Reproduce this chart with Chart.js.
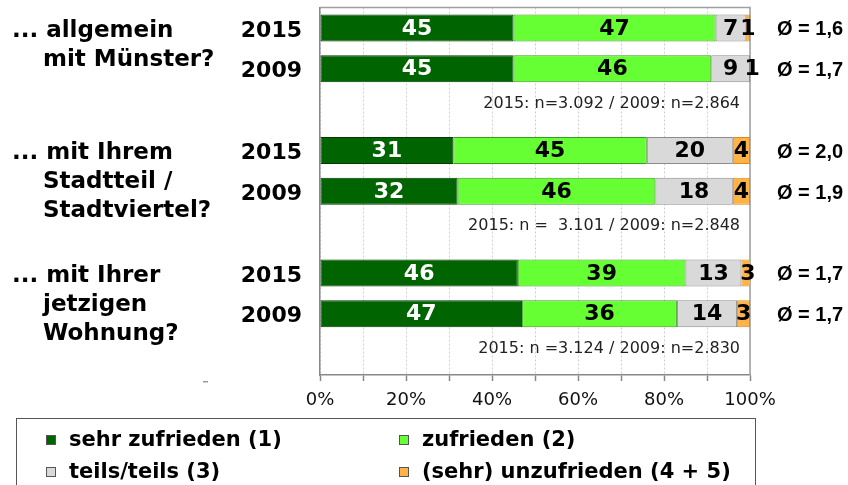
<!DOCTYPE html>
<html lang="de">
<head>
<meta charset="utf-8">
<title>Zufriedenheit Münster 2015 / 2009</title>
<script src="https://cdn.jsdelivr.net/npm/chart.js@4.4.1/dist/chart.umd.min.js"></script>
<style>
  html, body { margin: 0; padding: 0; background: #fff; }
  #wrap { position: relative; width: 848px; height: 485px; overflow: hidden; }
  #legend {
    position: absolute; left: 16px; top: 418px; width: 740px; height: 90px;
    border: 1.5px solid #555; box-sizing: border-box;
    font: bold 21px "DejaVu Sans", sans-serif; color: #000;
  }
  .item { position: absolute; white-space: nowrap; line-height: 22px; }
  .box { position: absolute; left: 0; top: 7px; width: 8px; height: 8px; border: 1px solid #555; }
  .item span.txt { position: absolute; left: 23px; top: 0; }
</style>
</head>
<body>
<div id="wrap">
  <canvas id="chart" width="848" height="485"></canvas>
  <div id="legend"></div>
</div>
<script>
// categories: two survey years per question, an empty row after each
const years = ['2015', '2009', '', '2015', '2009', '', '2015', '2009', ''];

// values in % per answer
const sehrZufrieden = [45, 45, null, 31, 32, null, 46, 47, null];
const zufrieden     = [47, 46, null, 45, 46, null, 39, 36, null];
const teilsTeils    = [7, 9, null, 20, 18, null, 13, 14, null];
const unzufrieden   = [1, 1, null, 4, 4, null, 3, 3, null];

// mean scores
const means = ['1,6', '1,7', null, '2,0', '1,9', null, '1,7', '1,7', null];

// questions (first row index of each group)
const questions = [
    ['... allgemein', 'mit Münster?'],
    ['... mit Ihrem', 'Stadtteil /', 'Stadtviertel?'],
    ['... mit Ihrer', 'jetzigen', 'Wohnung?']
];
const questionRows = [0, 3, 6];

// sample sizes shown in the empty rows
const sampleNotes = [
    '2015: n=3.092 / 2009: n=2.864',
    '2015: n =  3.101 / 2009: n=2.848',
    '2015: n =3.124 / 2009: n=2.830'
];
const noteRows = [2, 5, 8];

const xTicks = [0, 20, 40, 60, 80, 100];

// Extra text around the bars
const annotations = {
    id: 'annotations',
    beforeDatasetsDraw(chart) {
        const { ctx, chartArea } = chart;
        ctx.save();
        ctx.strokeStyle = '#a0a0a0';
        ctx.lineWidth = 1.5;
        ctx.beginPath();
        ctx.moveTo(chartArea.left, chartArea.top);
        ctx.lineTo(chartArea.right, chartArea.top);
        ctx.lineTo(chartArea.right, chartArea.bottom);
        ctx.stroke();
        ctx.restore();
    },
    afterDatasetsDraw(chart) {
        const { ctx } = chart;
        const yScale = chart.scales.y;

        // values inside the segments
        ctx.save();
        ctx.font = 'bold 22px "DejaVu Sans"';
        ctx.textAlign = 'center';
        ctx.textBaseline = 'middle';
        chart.data.datasets.forEach((ds, i) => {
            const meta = chart.getDatasetMeta(i);
            meta.data.forEach((bar, j) => {
                const v = ds.data[j];
                if (v == null) return;
                const p = bar.getProps(['x', 'y', 'base'], true);
                ctx.fillStyle = i === 0 ? '#fff' : '#000';
                ctx.fillText(v, (p.x + p.base) / 2, p.y + 1);
            });
        });
        ctx.restore();

        // mean values on the right
        ctx.save();
        ctx.font = 'bold 20px "Liberation Sans"';
        ctx.textAlign = 'left';
        ctx.textBaseline = 'middle';
        ctx.fillStyle = '#000';
        means.forEach((m, j) => {
            if (!m) return;
            ctx.fillText('Ø = ' + m, 777, yScale.getPixelForValue(j) + 2);
        });
        ctx.restore();

        // sample sizes
        ctx.save();
        ctx.font = '16px "DejaVu Sans"';
        ctx.textAlign = 'right';
        ctx.textBaseline = 'middle';
        ctx.fillStyle = '#222';
        sampleNotes.forEach((t, k) => {
            ctx.fillText(t, 740, yScale.getPixelForValue(noteRows[k]) - 6);
        });
        ctx.restore();

        // question texts on the left
        ctx.save();
        ctx.font = 'bold 23px "DejaVu Sans"';
        ctx.textAlign = 'left';
        ctx.textBaseline = 'middle';
        ctx.fillStyle = '#000';
        questions.forEach((lines, k) => {
            const y0 = yScale.getPixelForValue(questionRows[k]) + 3;
            lines.forEach((line, n) => {
                ctx.fillText(line, n === 0 ? 12 : 43, y0 + n * 29);
            });
        });
        ctx.fillStyle = '#999';
        ctx.fillRect(203, 381, 5, 1.5);
        ctx.restore();
    }
};

const ctx = document.getElementById('chart').getContext('2d');
const chart = new Chart(ctx, {
    type: 'bar',
    data: {
        labels: years,
        datasets: [
            { label: 'sehr zufrieden (1)', data: sehrZufrieden, backgroundColor: '#006400', borderColor: '#003a00' },
            { label: 'zufrieden (2)', data: zufrieden, backgroundColor: '#66ff33', borderColor: '#3c9a1e' },
            { label: 'teils/teils (3)', data: teilsTeils, backgroundColor: '#d9d9d9', borderColor: '#8c8c8c' },
            { label: '(sehr) unzufrieden (4 + 5)', data: unzufrieden, backgroundColor: '#ffb347', borderColor: '#d88a1c' }
        ]
    },
    options: {
        indexAxis: 'y',
        responsive: false,
        animation: false,
        datasets: {
            bar: { categoryPercentage: 1, barPercentage: 0.66, borderWidth: 1, borderSkipped: false }
        },
        layout: { padding: { left: 0, right: 98, top: 7.5, bottom: 80 } },
        plugins: { legend: { display: false }, tooltip: { enabled: false } },
        scales: {
            x: {
                stacked: true,
                min: 0,
                max: 100,
                afterFit: (scale) => { scale.height = 30; },
                ticks: {
                    stepSize: 10,
                    autoSkip: false,
                    maxRotation: 0,
                    padding: 9,
                    color: '#111',
                    font: { family: 'DejaVu Sans', size: 18 },
                    callback: (v) => xTicks.includes(v) ? v + '%' : ''
                },
                grid: { color: '#cfcfcf', lineWidth: 1, tickLength: 6, tickColor: '#888', tickWidth: 1.5 },
                border: { color: '#888', width: 1.5, dash: [2, 2] }
            },
            y: {
                stacked: true,
                afterFit: (scale) => {
                    scale.width = 320;
                    scale.paddingTop = 0;
                    scale.paddingBottom = 0;
                },
                ticks: {
                    padding: 18,
                    labelOffset: 3,
                    color: '#000',
                    font: { family: 'DejaVu Sans', size: 22, weight: 'bold' }
                },
                grid: { display: false, drawTicks: false },
                border: { color: '#888', width: 1.5 }
            }
        }
    },
    plugins: [annotations]
});

// legend in two columns, built from the datasets
const legendPos = [[29, 9], [382, 9], [29, 41], [382, 41]];
const legendEl = document.getElementById('legend');
chart.data.datasets.forEach((ds, i) => {
    const item = document.createElement('div');
    item.className = 'item';
    item.style.left = legendPos[i][0] + 'px';
    item.style.top = legendPos[i][1] + 'px';
    const box = document.createElement('span');
    box.className = 'box';
    box.style.background = ds.backgroundColor;
    const txt = document.createElement('span');
    txt.className = 'txt';
    txt.textContent = ds.label;
    item.appendChild(box);
    item.appendChild(txt);
    legendEl.appendChild(item);
});
</script>
</body>
</html>
